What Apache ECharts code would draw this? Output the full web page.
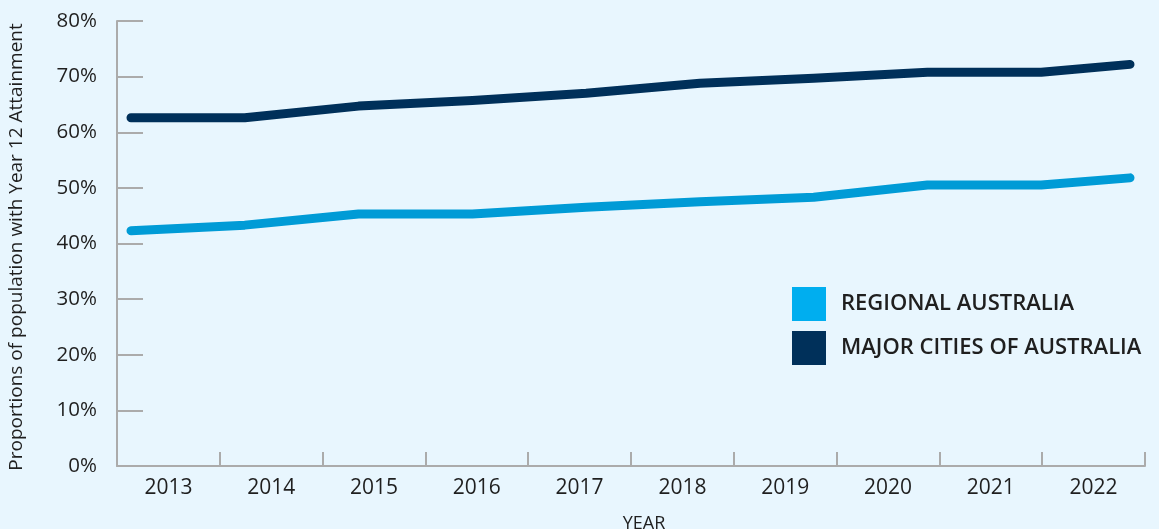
<!DOCTYPE html>
<html><head><meta charset="utf-8">
<script src="https://cdn.jsdelivr.net/npm/echarts@6/dist/echarts.min.js"></script>
<style>html,body{margin:0;padding:0;background:#E8F6FE;}#c{width:1159px;height:529px;}</style>
</head><body><div id="c"></div>
<script>
const years = ['2013','2014','2015','2016','2017','2018','2019','2020','2021','2022'];
const yearPositions = [2013, 2014, 2015, 2016, 2017, 2018, 2019, 2020, 2021, 2021.78];
const regional = [42.3, 43.3, 45.3, 45.3, 46.5, 47.5, 48.3, 50.5, 50.5, 51.8];
const majorCities = [62.6, 62.6, 64.7, 65.7, 67.0, 68.8, 69.7, 70.8, 70.8, 72.2];
const yTicks = [0, 80, 10];
const seriesNames = ['REGIONAL AUSTRALIA', 'MAJOR CITIES OF AUSTRALIA'];

const font = 'Open Sans';
const axisGrey = '#ababab';
const textCol = '#1f1f1f';
const chart = echarts.init(document.getElementById('c'));
chart.setOption({
  backgroundColor: '#E8F6FE',
  animation: false,
  textStyle: {fontFamily: font},
  grid: [
    {left: 117, right: 14, top: 21, bottom: 63},
    {left: 131, right: 29, top: 21, bottom: 63}
  ],
  xAxis: [
    {gridIndex: 0, type: 'category', data: years, boundaryGap: true,
     axisLine: {lineStyle: {color: axisGrey, width: 2}},
     axisTick: {show: true, inside: true, length: 14, lineStyle: {color: axisGrey, width: 2}},
     axisLabel: {color: textCol, fontSize: 21, margin: 12, fontFamily: font},
     splitLine: {show: false}},
    {gridIndex: 1, type: 'value', min: yearPositions[0], max: yearPositions[yearPositions.length-1], show: false}
  ],
  yAxis: [
    {gridIndex: 0, type: 'value', min: yTicks[0], max: yTicks[1], interval: yTicks[2],
     axisLine: {show: true, lineStyle: {color: axisGrey, width: 2}},
     axisTick: {show: true, inside: true, length: 26, lineStyle: {color: axisGrey, width: 2}},
     axisLabel: {color: textCol, fontSize: 20.5, margin: 20, formatter: '{value}%', fontFamily: font},
     splitLine: {show: false}},
    {gridIndex: 1, type: 'value', min: yTicks[0], max: yTicks[1], show: false}
  ],
  legend: {
    orient: 'vertical', left: 787, top: 282, itemWidth: 34, itemHeight: 34, itemGap: 10,
    icon: 'rect',
    textStyle: {color: textCol, fontSize: 22, fontWeight: 600, fontFamily: font, padding: [0,0,0,10]},
    data: [
      {name: seriesNames[0], itemStyle: {color: '#00AEEF'}},
      {name: seriesNames[1], itemStyle: {color: '#00305A'}}
    ]
  },
  graphic: [
    {type: 'text', x: 17, y: 247, rotation: Math.PI/2,
     style: {text: 'Proportions of population with Year 12 Attainment', fill: textCol, font: '19px "Open Sans"', textAlign: 'center', textVerticalAlign: 'middle'}},
    {type: 'text', x: 644, y: 524,
     style: {text: 'YEAR', fill: textCol, font: '18px "Open Sans"', textAlign: 'center', textVerticalAlign: 'middle'}}
  ],
  series: [
    {name: seriesNames[0], type: 'line', xAxisIndex: 1, yAxisIndex: 1, symbol: 'none',
     data: yearPositions.map((x, i) => [x, regional[i]]),
     lineStyle: {color: '#009BD6', width: 9, cap: 'round', join: 'round'}, itemStyle: {color: '#00AEEF'}},
    {name: seriesNames[1], type: 'line', xAxisIndex: 1, yAxisIndex: 1, symbol: 'none',
     data: yearPositions.map((x, i) => [x, majorCities[i]]),
     lineStyle: {color: '#00305A', width: 9, cap: 'round', join: 'round'}, itemStyle: {color: '#00305A'}}
  ]
});
</script></body></html>
